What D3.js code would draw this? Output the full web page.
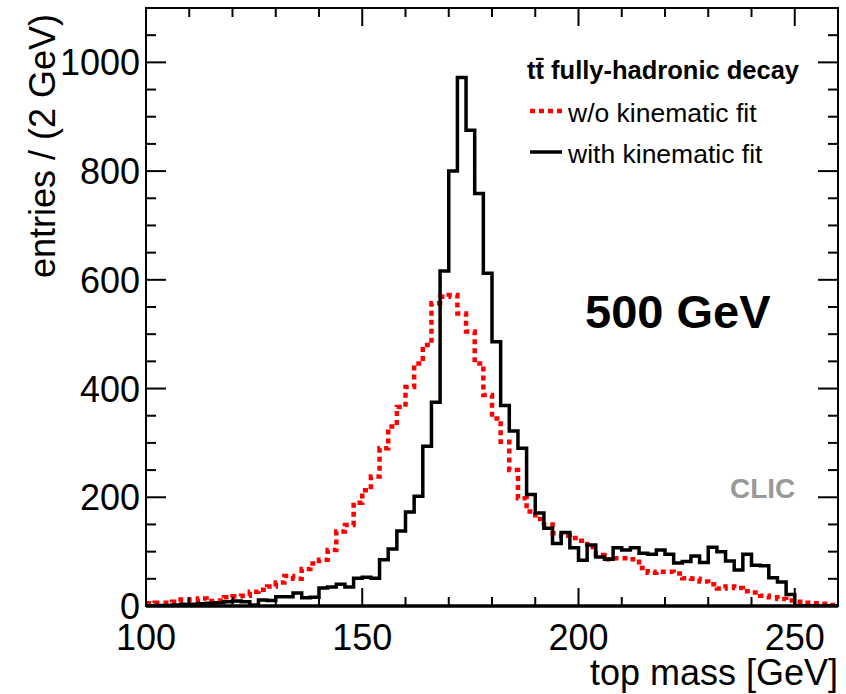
<!DOCTYPE html>
<html>
<head>
<meta charset="utf-8">
<script src="https://cdn.jsdelivr.net/npm/d3@7"></script>
<style>
body { margin: 0; background: #fff; }
text { font-family: "Liberation Sans", Arial, Helvetica, sans-serif; }
</style>
</head>
<body>
<script>
// top mass histogram, 2 GeV bins from 100 to 260
var massLow = 100, massHigh = 260, binWidth = 2;

var withoutFit = [
    5, 6, 6, 8, 12, 11, 14, 9, 10, 16,
    18, 19, 26, 30, 36, 43, 55, 50, 68, 78,
    85, 103, 137, 149, 190, 213, 238, 290, 330, 366,
    403, 446, 480, 557, 569, 572, 538, 505, 446, 388,
    345, 302, 250, 198, 174, 160, 150, 134, 129, 125,
    120, 108, 94, 86, 88, 88, 86, 70, 61, 63,
    63, 60, 51, 50, 45, 40, 32, 36, 33, 27,
    25, 19, 16, 13, 10, 8, 6, 5, 4, 2
];

var withFit = [
    0, 1, 1, 2, 3, 3, 4, 5, 6, 8,
    9, 8, 2, 11, 10, 17, 17, 24, 15, 16,
    33, 35, 40, 35, 51, 53, 51, 85, 105, 138,
    173, 202, 294, 375, 616, 800, 972, 875, 759, 612,
    486, 369, 322, 290, 205, 171, 143, 115, 135, 107,
    84, 112, 90, 86, 107, 103, 107, 97, 95, 103,
    95, 79, 82, 92, 80, 108, 100, 83, 66, 95,
    75, 74, 52, 44, 21, 0, 0, 0, 0, 0
];

var xMajor = [100, 150, 200, 250];
var yMajor = [0, 200, 400, 600, 800, 1000];

var legendTitle = "t\u0074\u0304 fully-hadronic decay";
var legendLabels = ["w/o kinematic fit", "with kinematic fit"];

var W = 846, H = 694;
var padL = 146, padR = 838, padT = 8, padB = 606;

var svg = d3.select("body").append("svg")
    .attr("width", W)
    .attr("height", H);

var x = d3.scaleLinear().domain([massLow, massHigh]).range([padL, padR]);
var y = d3.scaleLinear().domain([0, 1100]).range([padB, padT]);

svg.append("clipPath").attr("id", "plot")
    .append("rect")
    .attr("x", padL).attr("y", padT)
    .attr("width", padR - padL).attr("height", padB - padT);

function histPoints(vals) {
    var pts = vals.map(function (v, i) {
        return [x(massLow + i * binWidth), y(v)];
    });
    pts.push([x(massHigh), y(vals[vals.length - 1])]);
    return pts;
}

var step = d3.line().curve(d3.curveStepAfter);

var g = svg.append("g").attr("clip-path", "url(#plot)");

g.append("path")
    .attr("d", step(histPoints(withoutFit)))
    .attr("fill", "none")
    .attr("stroke", "#ff0000")
    .attr("stroke-width", 4.5)
    .attr("stroke-dasharray", "5,4");

g.append("path")
    .attr("d", step(histPoints(withFit)))
    .attr("fill", "none")
    .attr("stroke", "#000")
    .attr("stroke-width", 3.5);

// ticks (inward, all four sides)
var xMinor = d3.range(massLow, massHigh + 1, 10).filter(function (v) { return xMajor.indexOf(v) < 0; });
var yMinor = d3.range(0, 1101, 50).filter(function (v) { return yMajor.indexOf(v) < 0; });

function ticks(sel, vals, len, horiz, pos, dir) {
    sel.selectAll(null).data(vals).enter().append("line")
        .attr("x1", function (d) { return horiz ? x(d) : pos; })
        .attr("x2", function (d) { return horiz ? x(d) : pos + dir * len; })
        .attr("y1", function (d) { return horiz ? pos : y(d); })
        .attr("y2", function (d) { return horiz ? pos + dir * len : y(d); })
        .attr("stroke", "#000")
        .attr("stroke-width", 2);
}
var tg = svg.append("g");
ticks(tg, xMajor, 18, true, padB, -1);
ticks(tg, xMinor, 9, true, padB, -1);
ticks(tg, xMajor, 18, true, padT, 1);
ticks(tg, xMinor, 9, true, padT, 1);
ticks(tg, yMajor, 20, false, padL, 1);
ticks(tg, yMinor, 10, false, padL, 1);
ticks(tg, yMajor, 20, false, padR, -1);
ticks(tg, yMinor, 10, false, padR, -1);

// frame
svg.append("rect")
    .attr("x", padL).attr("y", padT)
    .attr("width", padR - padL).attr("height", padB - padT)
    .attr("fill", "none")
    .attr("stroke", "#000")
    .attr("stroke-width", 2);
svg.append("line")
    .attr("x1", padL).attr("x2", padR)
    .attr("y1", padB).attr("y2", padB)
    .attr("stroke", "#000").attr("stroke-width", 3.5);

// tick labels
svg.selectAll(".xl").data(xMajor).enter().append("text")
    .attr("x", function (d) { return x(d); })
    .attr("y", 650)
    .attr("text-anchor", "middle")
    .attr("font-size", 36)
    .text(function (d) { return d; });

svg.selectAll(".yl").data(yMajor).enter().append("text")
    .attr("x", 140)
    .attr("y", function (d) { return y(d) + 13; })
    .attr("text-anchor", "end")
    .attr("font-size", 36)
    .text(function (d) { return d; });

// axis titles
svg.append("text")
    .attr("x", padR).attr("y", 685)
    .attr("text-anchor", "end")
    .attr("font-size", 36)
    .text("top mass [GeV]");

svg.append("text")
    .attr("transform", "translate(55,14) rotate(-90)")
    .attr("text-anchor", "end")
    .attr("font-size", 36)
    .text("entries / (2 GeV)");

// legend
svg.append("text")
    .attr("x", 527).attr("y", 79)
    .attr("font-size", 25.5)
    .attr("font-weight", "bold")
    .text(legendTitle);

svg.append("line")
    .attr("x1", 530).attr("x2", 562).attr("y1", 111).attr("y2", 111)
    .attr("stroke", "#ff0000").attr("stroke-width", 4.5)
    .attr("stroke-dasharray", "5,4");
svg.append("text")
    .attr("x", 568).attr("y", 122)
    .attr("font-size", 26.5)
    .text(legendLabels[0]);

svg.append("line")
    .attr("x1", 530).attr("x2", 562).attr("y1", 152).attr("y2", 152)
    .attr("stroke", "#000").attr("stroke-width", 3.5);
svg.append("text")
    .attr("x", 568).attr("y", 163)
    .attr("font-size", 26.5)
    .text(legendLabels[1]);

svg.append("text")
    .attr("x", 585).attr("y", 328)
    .attr("font-size", 47)
    .attr("font-weight", "bold")
    .text("500 GeV");

svg.append("text")
    .attr("x", 730).attr("y", 498)
    .attr("font-size", 28)
    .attr("font-weight", "bold")
    .attr("fill", "#999")
    .text("CLIC");
</script>
</body>
</html>
